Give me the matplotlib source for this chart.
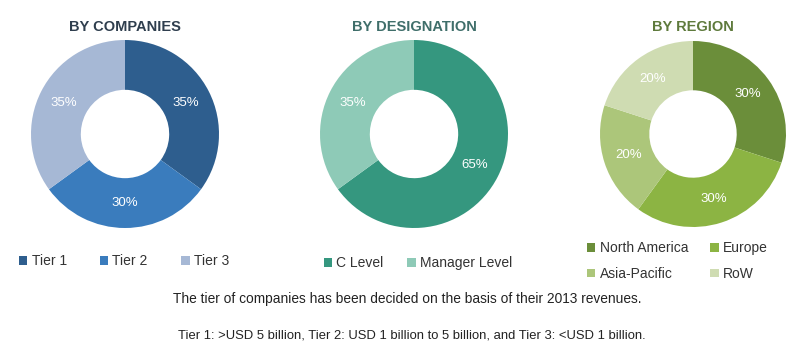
import matplotlib.pyplot as plt
from matplotlib.patches import Patch

plt.rcParams['font.family'] = ['Liberation Sans', 'DejaVu Sans']

# data
comp_labels = ['Tier 1', 'Tier 2', 'Tier 3']
comp_vals = [35, 30, 35]
comp_cols = ['#2e5e8e', '#3a7cbd', '#a6b8d5']

desig_labels = ['C Level', 'Manager Level']
desig_vals = [65, 35]
desig_cols = ['#35977f', '#8ecab7']

reg_labels = ['North America', 'Europe', 'Asia-Pacific', 'RoW']
reg_vals = [30, 30, 20, 20]
reg_cols = ['#6b8e3a', '#8cb443', '#acc67a', '#cfdcb2']

W, H = 800, 359
fig = plt.figure(figsize=(W / 100, H / 100), dpi=100)


def donut(cx, cy, r, vals, cols, title, tcol):
    ax = fig.add_axes([(cx - r) / W, (H - cy - r) / H, 2 * r / W, 2 * r / H])
    ax.pie(vals, colors=cols, startangle=90, counterclock=False,
           wedgeprops=dict(width=0.53, linewidth=0),
           autopct='%d%%', pctdistance=0.73,
           textprops=dict(color='white', fontsize=9.5))
    ax.set_xlim(-1, 1)
    ax.set_ylim(-1, 1)
    ax.set_aspect('equal')
    fig.text(cx / W, 1 - 27 / H, title, ha='center', va='center', fontsize=10.5,
             fontweight='bold', color=tcol, fontstretch='condensed')
    return ax


donut(125, 134, 94, comp_vals, comp_cols, 'BY COMPANIES', '#2f3e4e')
donut(414, 134, 94, desig_vals, desig_cols, 'BY DESIGNATION', '#3f6e6a')
donut(693, 134, 93, reg_vals, reg_cols, 'BY REGION', '#5e7a3c')


def legend(x, y, labels, cols, ncol, colsp):
    h = [Patch(facecolor=c, edgecolor='none') for c in cols]
    # legend fills column by column, reorder so it reads row by row
    order = [i for c in range(ncol) for i in range(c, len(labels), ncol)]
    fig.legend([h[i] for i in order], [labels[i] for i in order], loc='upper left',
               bbox_to_anchor=(x / W, 1 - y / H), ncol=ncol,
               frameon=False, fontsize=10, handlelength=0.6, handleheight=0.6,
               handletextpad=0.3, columnspacing=colsp, borderaxespad=0, borderpad=0,
               labelspacing=0.85, labelcolor='#333333')


legend(19, 254, comp_labels, comp_cols, 3, 2.4)
legend(324, 256, desig_labels, desig_cols, 2, 1.7)
legend(587, 241, reg_labels, reg_cols, 2, 1.6)

fig.text(407 / W, 1 - 299 / H, 'The tier of companies has been decided on the basis of their 2013 revenues.',
         ha='center', va='center', fontsize=9.9, color='#222222')
fig.text(412 / W, 1 - 335 / H, 'Tier 1: >USD 5 billion, Tier 2: USD 1 billion to 5 billion, and Tier 3: <USD 1 billion.',
         ha='center', va='center', fontsize=9.4, color='#222222')

fig.savefig('out.png', dpi=100, facecolor='white')
